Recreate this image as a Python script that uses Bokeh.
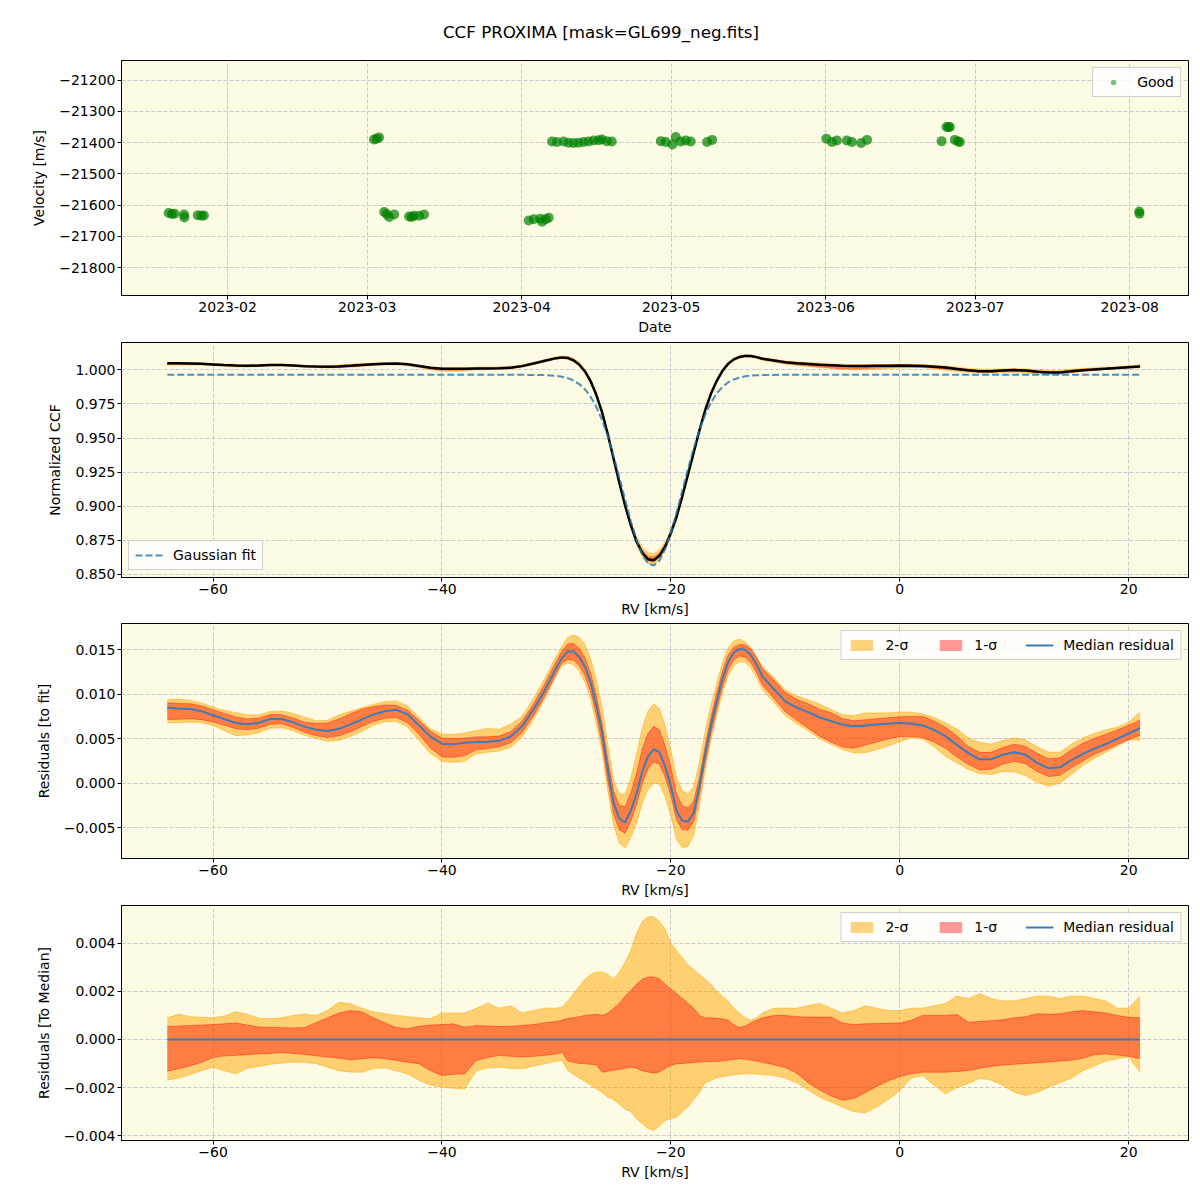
import numpy as np
import pandas as pd
from bokeh.plotting import figure
from bokeh.models import (ColumnDataSource, FixedTicker, CustomJSTickFormatter, Range1d,
                          Legend, LegendItem)
from bokeh.core.properties import value
from bokeh.layouts import column
from bokeh.embed import file_html
from bokeh.resources import INLINE

FONT = "DejaVu Sans"
BG = "#fdfbe3"

title_text = "CCF PROXIMA [mask=GL699_neg.fits]"

# ---------------- panel 1 : velocities ----------------
obs_dates = [
    "2023-01-20 04:00", "2023-01-20 20:00", "2023-01-21 08:00", "2023-01-23 06:00", "2023-01-23 08:00",
    "2023-01-26 00:00", "2023-01-26 18:00", "2023-01-27 06:00",
    "2023-03-02 09:00", "2023-03-02 22:00", "2023-03-03 09:00",
    "2023-03-04 10:00", "2023-03-04 22:00", "2023-03-05 10:00", "2023-03-06 10:00", "2023-03-09 10:00",
    "2023-03-09 22:00", "2023-03-10 10:00", "2023-03-11 10:00", "2023-03-12 10:00",
    "2023-04-02 10:00", "2023-04-03 10:00", "2023-04-04 18:00", "2023-04-05 02:00", "2023-04-05 20:00",
    "2023-04-06 10:00",
    "2023-04-07 02:00", "2023-04-08 02:00", "2023-04-09 10:00", "2023-04-10 10:00", "2023-04-11 10:00",
    "2023-04-12 10:00", "2023-04-13 10:00", "2023-04-14 10:00", "2023-04-15 10:00", "2023-04-16 10:00",
    "2023-04-17 02:00", "2023-04-18 02:00", "2023-04-19 02:00",
    "2023-04-28 22:00", "2023-04-29 22:00", "2023-05-01 06:00", "2023-05-01 22:00", "2023-05-02 22:00",
    "2023-05-03 22:00", "2023-05-04 22:00", "2023-05-08 05:00", "2023-05-09 05:00",
    "2023-06-01 03:00", "2023-06-02 06:00", "2023-06-03 06:00", "2023-06-05 06:00", "2023-06-06 06:00",
    "2023-06-08 03:00", "2023-06-09 07:00",
    "2023-06-24 06:00", "2023-06-25 06:00", "2023-06-25 15:00", "2023-06-25 22:00", "2023-06-26 22:00",
    "2023-06-27 13:00", "2023-06-27 22:00",
    "2023-08-02 22:00", "2023-08-02 23:00",
]
obs_velocity = [
    -21625, -21628, -21627, -21630, -21639,
    -21632, -21634, -21633,
    -21390, -21387, -21383,
    -21622, -21628, -21638, -21630, -21636,
    -21638, -21634, -21634, -21630,
    -21649, -21645, -21643, -21653, -21645,
    -21640,
    -21396, -21398, -21396, -21400, -21401,
    -21400, -21398, -21396, -21393, -21392,
    -21390, -21395, -21396,
    -21395, -21398, -21406, -21382, -21396,
    -21393, -21396, -21398, -21391,
    -21387, -21398, -21393, -21393, -21398,
    -21401, -21391,
    -21395, -21350, -21350, -21350, -21391,
    -21396, -21398,
    -21620, -21627,
]
vel_ticks = [-21800, -21700, -21600, -21500, -21400, -21300, -21200]
month_ticks = ["2023-02-01", "2023-03-01", "2023-04-01", "2023-05-01", "2023-06-01", "2023-07-01", "2023-08-01"]

# ---------------- CCF residual statistics ----------------
rv = [-64, -63, -62, -61, -60, -59, -58, -57, -56, -55,
      -54, -53, -52, -51, -50, -49, -48, -47, -46, -45,
      -44, -43, -42, -41, -40, -39, -38, -37, -36, -35,
      -34, -33, -32, -31,
      -30, -29.5, -29, -28.5, -28, -27.5, -27, -26.5, -26, -25.5,
      -25, -24.5, -24, -23.5, -23, -22.5, -22, -21.5, -21, -20.5,
      -20, -19.5, -19, -18.5, -18, -17.5, -17, -16.5, -16, -15.5,
      -15, -14.5, -14, -13.5, -13, -12.5, -12,
      -11, -10, -9, -8, -7, -6, -5, -4, -3, -2,
      -1, 0, 1, 2, 3, 4, 5, 6, 7, 8,
      9, 10, 11, 12, 13, 14, 15, 16, 17, 18,
      19, 20, 21]

median_residual = [
    0.0085, 0.00842, 0.00835, 0.0081, 0.00765, 0.0072, 0.00678, 0.00664, 0.0068, 0.00722,
    0.00722, 0.00685, 0.00637, 0.00603, 0.00588, 0.00612, 0.00662, 0.00718, 0.00772, 0.0081,
    0.00826, 0.00775, 0.0065, 0.00525, 0.00445, 0.00438, 0.00455, 0.00463, 0.00467, 0.00477,
    0.00525, 0.0064, 0.0083, 0.0105,
    0.0130, 0.0141, 0.0148, 0.0148, 0.0142, 0.0131, 0.0113, 0.0087, 0.0057, 0.0015,
    -0.0022, -0.0040, -0.0044, -0.0031, -0.0012, 0.0013, 0.0030, 0.0038, 0.0035, 0.0019,
    -0.0003, -0.0031, -0.0042, -0.0043, -0.0033, -0.0003, 0.0033, 0.0065, 0.0092, 0.0117,
    0.0136, 0.0147, 0.0151, 0.0150, 0.0144, 0.0133, 0.0120,
    0.0106, 0.0092, 0.0085, 0.0080, 0.0074, 0.0070, 0.0066, 0.0064, 0.0065, 0.0066,
    0.0067, 0.0068, 0.0067, 0.0065, 0.0060, 0.0053, 0.0043, 0.0034, 0.0027, 0.0027,
    0.0032, 0.0035, 0.0032, 0.0023, 0.0017, 0.0018, 0.0026, 0.0033, 0.0039, 0.0044,
    0.0050, 0.0056, 0.0062]

# spread of the individual residuals around the median (percentile offsets)
sig2_hi = [
    0.0009, 0.00105, 0.00095, 0.00092, 0.0009, 0.00098, 0.00115, 0.00105, 0.00088, 0.00086,
    0.0009, 0.001, 0.00105, 0.001, 0.0012, 0.00155, 0.00148, 0.0013, 0.00115, 0.00107,
    0.001, 0.00095, 0.0009, 0.00086, 0.0011, 0.0011, 0.0011, 0.0013, 0.0015, 0.0013,
    0.0014, 0.0011, 0.0012, 0.0013,
    0.0013, 0.00135, 0.0016, 0.0019, 0.0022, 0.0025, 0.0027, 0.0028, 0.0028, 0.0027,
    0.0025, 0.0028, 0.0032, 0.0037, 0.0044, 0.0049, 0.0051, 0.0051, 0.0049, 0.0046,
    0.0040, 0.0037, 0.0034, 0.0031, 0.0029, 0.0027, 0.0025, 0.0023, 0.0020, 0.0018,
    0.0016, 0.0013, 0.0011, 0.0009, 0.0008, 0.0009, 0.0011,
    0.0013, 0.0013, 0.0013, 0.0014, 0.0015, 0.0013, 0.0011, 0.0012, 0.0014, 0.0013,
    0.0012, 0.0012, 0.0013, 0.0013, 0.0014, 0.0015, 0.0018, 0.0017, 0.0019, 0.0017,
    0.0016, 0.0016, 0.0017, 0.0018, 0.0018, 0.0017, 0.0018, 0.0018, 0.0017, 0.0016,
    0.0013, 0.0013, 0.0018]
sig1_hi = [
    0.00054, 0.00056, 0.00058, 0.0006, 0.00062, 0.00065, 0.00068, 0.0006, 0.00052, 0.0005,
    0.00049, 0.00048, 0.0005, 0.0007, 0.0009, 0.0011, 0.0012, 0.00115, 0.0009, 0.0007,
    0.0005, 0.00045, 0.00055, 0.0006, 0.00062, 0.00065, 0.00051, 0.00058, 0.00056, 0.00054,
    0.00055, 0.00058, 0.00062, 0.0007,
    0.00075, 0.0008, 0.00088, 0.0009, 0.00095, 0.001, 0.00103, 0.00105, 0.001, 0.0011,
    0.0013, 0.0015, 0.0018, 0.00204, 0.0023, 0.0025, 0.0026, 0.0026, 0.00252, 0.0023,
    0.0021, 0.0019, 0.0017, 0.0015, 0.0013, 0.001, 0.0009, 0.0009, 0.00088, 0.00086,
    0.0008, 0.0006, 0.0005, 0.00055, 0.0007, 0.0008, 0.0009,
    0.001, 0.001, 0.00095, 0.00093, 0.00093, 0.00093, 0.00068, 0.00062, 0.00065, 0.00066,
    0.00067, 0.00068, 0.0008, 0.001, 0.001, 0.001, 0.00104, 0.00072, 0.00075, 0.00078,
    0.00082, 0.0009, 0.00095, 0.00107, 0.00105, 0.00107, 0.00115, 0.0012, 0.00115, 0.0011,
    0.001, 0.00092, 0.0009]
sig1_lo = [
    -0.00132, -0.00122, -0.0011, -0.00095, -0.00075, -0.00068, -0.00066, -0.00063, -0.0006, -0.00058,
    -0.00054, -0.00058, -0.00062, -0.00068, -0.00073, -0.00078, -0.00084, -0.0008, -0.00076, -0.0008,
    -0.00087, -0.00095, -0.00101, -0.0013, -0.0015, -0.00145, -0.00143, -0.00087, -0.00075, -0.00066,
    -0.0007, -0.00073, -0.0007, -0.00066,
    -0.0006, -0.00053, -0.0009, -0.00095, -0.001, -0.00101, -0.00103, -0.00106, -0.00136, -0.00132,
    -0.00128, -0.00124, -0.0012, -0.00115, -0.0012, -0.0013, -0.00135, -0.0014, -0.00135, -0.0012,
    -0.00108, -0.00101, -0.001, -0.00098, -0.00096, -0.00094, -0.00093, -0.00092, -0.00091, -0.0009,
    -0.00086, -0.00083, -0.0008, -0.00082, -0.00086, -0.0009, -0.00095,
    -0.00105, -0.00117, -0.0014, -0.0018, -0.0021, -0.00235, -0.00253, -0.00245, -0.0022, -0.00195,
    -0.00172, -0.00154, -0.00143, -0.00136, -0.00136, -0.00136, -0.00133, -0.00129, -0.0012, -0.00112,
    -0.00106, -0.00103, -0.001, -0.00097, -0.00094, -0.0009, -0.00086, -0.00078, -0.00063, -0.0006,
    -0.00065, -0.0007, -0.0008]
sig2_lo = [
    -0.00168, -0.0016, -0.00146, -0.0013, -0.00115, -0.0013, -0.00143, -0.0012, -0.00112, -0.00103,
    -0.00098, -0.00094, -0.00096, -0.001, -0.00115, -0.0013, -0.00135, -0.00136, -0.0012, -0.00118,
    -0.0013, -0.00143, -0.0017, -0.0019, -0.00198, -0.00203, -0.00205, -0.0013, -0.00118, -0.00115,
    -0.0012, -0.00122, -0.0011, -0.00101,
    -0.0009, -0.00087, -0.0013, -0.00145, -0.0016, -0.00175, -0.0019, -0.00205, -0.0022, -0.0024,
    -0.0025, -0.0027, -0.0029, -0.003, -0.0033, -0.0035, -0.0037, -0.00378, -0.0036, -0.00337,
    -0.0033, -0.00323, -0.003, -0.0028, -0.0025, -0.0022, -0.0018, -0.0017, -0.0016, -0.00155,
    -0.0015, -0.00147, -0.00145, -0.00143, -0.00143, -0.00144, -0.00146,
    -0.0015, -0.0016, -0.0018, -0.0021, -0.0024, -0.0026, -0.00281, -0.003, -0.00305, -0.0028,
    -0.0025, -0.00212, -0.0016, -0.0015, -0.0019, -0.00226, -0.002, -0.00184, -0.0016, -0.0017,
    -0.0019, -0.0022, -0.00233, -0.0022, -0.002, -0.0018, -0.0016, -0.0013, -0.0011, -0.0009,
    -0.0008, -0.00073, -0.00136]

# Gaussian fit parameters of the mean CCF
fit_baseline = 0.9963
fit_depth = 0.1398
fit_center = -21.6
fit_sigma = 2.6

rv_ticks = [-60, -40, -20, 0, 20]
ccf_ticks = [0.850, 0.875, 0.900, 0.925, 0.950, 0.975, 1.000]
res_ticks = [-0.005, 0.000, 0.005, 0.010, 0.015]
med_ticks = [-0.004, -0.002, 0.000, 0.002, 0.004]

# ---------------- derived arrays ----------------
rv_a = np.array(rv, dtype=float)
med = np.array(median_residual)
gauss_fit = fit_baseline - fit_depth * np.exp(-0.5 * ((rv_a - fit_center) / fit_sigma) ** 2)
ccf = gauss_fit + med

src = ColumnDataSource(dict(
    rv=rv_a, fit=gauss_fit, ccf=ccf, med=med, zero=np.zeros_like(rv_a),
    c2lo=ccf + np.array(sig2_lo), c2hi=ccf + np.array(sig2_hi),
    c1lo=ccf + np.array(sig1_lo), c1hi=ccf + np.array(sig1_hi),
    r2lo=med + np.array(sig2_lo), r2hi=med + np.array(sig2_hi),
    r1lo=med + np.array(sig1_lo), r1hi=med + np.array(sig1_hi),
    d2lo=np.array(sig2_lo), d2hi=np.array(sig2_hi),
    d1lo=np.array(sig1_lo), d1hi=np.array(sig1_hi),
))

C2 = "orange"
C1 = "red"
MED_COLOR = "#3a7db8"
W = 1200
FRAME_LEFT = 121
FRAME_RIGHT = 1188


def num_fmt(decimals):
    return CustomJSTickFormatter(
        code=f"const s = Math.abs(tick).toFixed({decimals}); return (tick < -1e-12 ? '\u2212' : '') + s;")


def make_fig(height, top, bottom, x_range, y_range, x_axis_type="linear"):
    p = figure(width=W, height=height, x_range=x_range, y_range=y_range,
               x_axis_type=x_axis_type, output_backend="svg", toolbar_location=None,
               min_border_left=FRAME_LEFT, min_border_right=W - FRAME_RIGHT,
               min_border_top=top, min_border_bottom=bottom)
    p.background_fill_color = BG
    p.border_fill_color = "white"
    p.outline_line_color = "black"
    p.outline_line_alpha = 1
    p.outline_line_width = 1
    for ax in (p.xaxis[0], p.yaxis[0]):
        ax.axis_line_color = "black"
        ax.major_tick_line_color = "black"
        ax.major_tick_out = 4
        ax.major_tick_in = 0
        ax.minor_tick_line_color = None
        ax.major_label_text_font = FONT
        ax.major_label_text_font_size = "14px"
        ax.major_label_text_color = "black"
        ax.axis_label_text_font = FONT
        ax.axis_label_text_font_size = "14px"
        ax.axis_label_text_font_style = "normal"
        ax.axis_label_text_color = "black"
        ax.major_label_standoff = 2
        ax.axis_label_standoff = 4
    p.yaxis.axis_label_standoff = 9
    p.grid.grid_line_color = "#c8c8d0"
    p.grid.grid_line_dash = "4 2"
    p.grid.grid_line_width = 1
    return p


def style_legend(lg):
    lg.label_text_font = FONT
    lg.label_text_font_size = "14px"
    lg.label_text_color = "black"
    lg.background_fill_color = "white"
    lg.background_fill_alpha = 0.8
    lg.border_line_color = "#d0d0d0"
    lg.border_line_alpha = 1
    lg.margin = 7
    lg.padding = 6
    lg.spacing = 4
    lg.glyph_width = 28
    lg.glyph_height = 14
    lg.label_standoff = 10
    lg.label_height = 14


# ---------------- title strip (its frame is aligned with the panels' frames) ----------------
pt = figure(width=W, height=58, x_range=Range1d(FRAME_LEFT, FRAME_RIGHT), y_range=Range1d(0, 58),
            x_axis_type=None, y_axis_type=None, output_backend="svg", toolbar_location=None,
            min_border=0)
pt.outline_line_color = None
pt.background_fill_color = "white"
pt.border_fill_color = "white"
pt.text(x=[600.5], y=[27], text=[title_text], text_align="center", text_baseline="middle",
        text_font=value(FONT), text_font_size="16.7px", text_color="black")

# ---------------- panel 1 ----------------
x1_range = Range1d(pd.Timestamp("2023-01-10 17:00"), pd.Timestamp("2023-08-12 19:00"))
p1 = make_fig(280, 2, 43, x1_range, Range1d(-21889, -21137), x_axis_type="datetime")
p1.xaxis.ticker = FixedTicker(ticks=[pd.Timestamp(d).value / 1e6 for d in month_ticks])
p1.xaxis.formatter = CustomJSTickFormatter(
    code="const d = new Date(tick); const m = d.getUTCMonth() + 1; "
         "return d.getUTCFullYear() + '-' + (m < 10 ? '0' + m : String(m));")
p1.yaxis.ticker = FixedTicker(ticks=vel_ticks)
p1.yaxis.formatter = num_fmt(0)
p1.xaxis.axis_label = "Date"
p1.yaxis.axis_label = "Velocity [m/s]"
vsrc = ColumnDataSource(dict(t=pd.to_datetime(obs_dates), v=obs_velocity))
p1.scatter("t", "v", source=vsrc, size=10, fill_color="green", fill_alpha=0.7, line_color=None)
# legend marker (drawn out of view; only its small legend swatch is visible)
lsrc = ColumnDataSource(dict(t=pd.to_datetime(["2023-01-01"]), v=[-30000]))
leg_dummy = p1.scatter("t", "v", source=lsrc, size=6, fill_color="green", fill_alpha=0.5, line_color=None)
lg1 = Legend(items=[LegendItem(label="Good", renderers=[leg_dummy])], location="top_right")
style_legend(lg1)
p1.add_layout(lg1)

# ---------------- panel 2 ----------------
p2 = make_fig(283, 4, 44, Range1d(-68.0, 25.23), Range1d(0.8478, 1.0200))
p2.xaxis.ticker = FixedTicker(ticks=rv_ticks)
p2.xaxis.formatter = num_fmt(0)
p2.yaxis.ticker = FixedTicker(ticks=ccf_ticks)
p2.yaxis.formatter = num_fmt(3)
p2.xaxis.axis_label = "RV [km/s]"
p2.yaxis.axis_label = "Normalized CCF"
p2.varea("rv", "c2lo", "c2hi", source=src, fill_color=C2, fill_alpha=0.5)
p2.varea("rv", "c1lo", "c1hi", source=src, fill_color=C1, fill_alpha=0.4)
p2.line("rv", "ccf", source=src, line_color="black", line_width=2.5)
r_fit = p2.line("rv", "fit", source=src, line_color="#1f77b4", line_alpha=0.8, line_width=2,
                line_dash="7 3")
lg2 = Legend(items=[LegendItem(label="Gaussian fit", renderers=[r_fit])], location="bottom_left")
style_legend(lg2)
p2.add_layout(lg2)


def residual_panel(height, top, bottom, yr, ticks, lo2, hi2, lo1, hi1, mid, ylabel):
    p = make_fig(height, top, bottom, Range1d(-68.0, 25.23), yr)
    p.xaxis.ticker = FixedTicker(ticks=rv_ticks)
    p.xaxis.formatter = num_fmt(0)
    p.yaxis.ticker = FixedTicker(ticks=ticks)
    p.yaxis.formatter = num_fmt(3)
    p.xaxis.axis_label = "RV [km/s]"
    p.yaxis.axis_label = ylabel
    a2 = p.varea("rv", lo2, hi2, source=src, fill_color=C2, fill_alpha=0.5)
    p.line("rv", lo2, source=src, line_color=C2, line_alpha=0.5, line_width=1)
    p.line("rv", hi2, source=src, line_color=C2, line_alpha=0.5, line_width=1)
    a1 = p.varea("rv", lo1, hi1, source=src, fill_color=C1, fill_alpha=0.4)
    p.line("rv", lo1, source=src, line_color=C1, line_alpha=0.4, line_width=1)
    p.line("rv", hi1, source=src, line_color=C1, line_alpha=0.4, line_width=1)
    m = p.line("rv", mid, source=src, line_color=MED_COLOR, line_width=2)
    lg = Legend(items=[LegendItem(label="2-\u03c3", renderers=[a2]),
                       LegendItem(label="1-\u03c3", renderers=[a1]),
                       LegendItem(label="Median residual", renderers=[m])],
                location="top_right", orientation="horizontal")
    style_legend(lg)
    lg.spacing = 28
    p.add_layout(lg)
    return p


p3 = residual_panel(282, 2, 45, Range1d(-0.00845, 0.01796), res_ticks,
                    "r2lo", "r2hi", "r1lo", "r1hi", "med", "Residuals [to fit]")
p4 = residual_panel(285, 2, 48, Range1d(-0.0042, 0.00557), med_ticks,
                    "d2lo", "d2hi", "d1lo", "d1hi", "zero", "Residuals [To Median]")

layout = column(pt, p1, p2, p3, p4, spacing=0)
open("out.html", "w").write(file_html(layout, INLINE, title="CCF PROXIMA"))
